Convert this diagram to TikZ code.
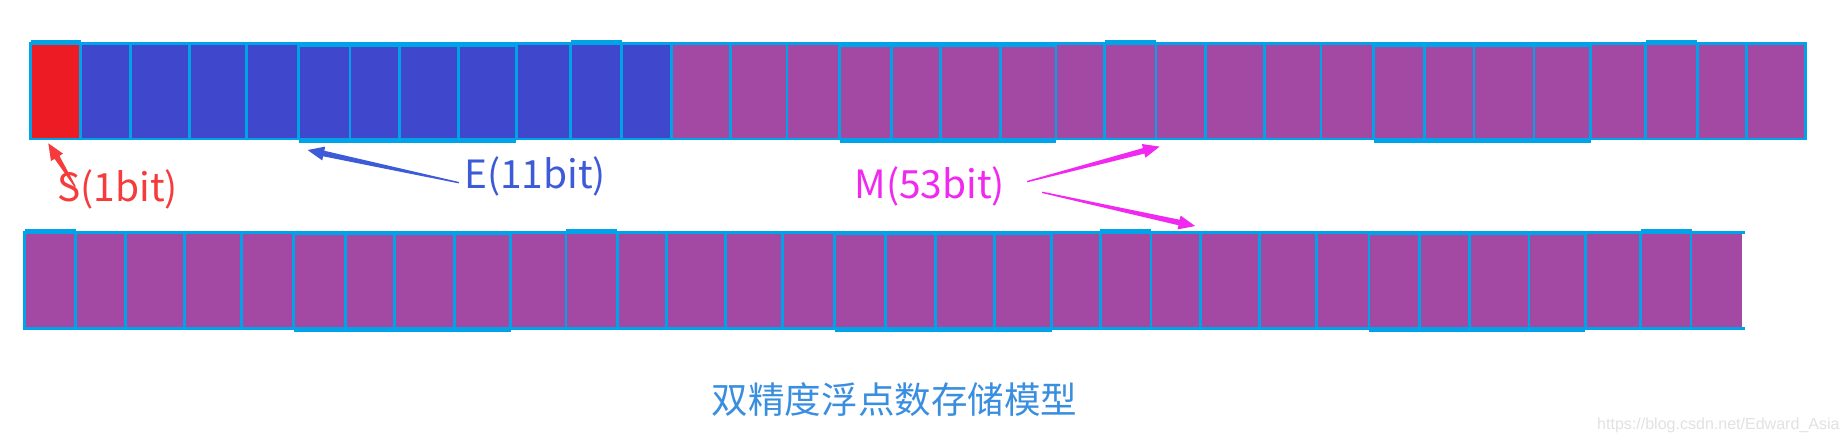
\documentclass[tikz,border=0pt]{standalone}
\usepackage{fontspec}
\setmainfont{Noto Sans CJK SC}
\newfontfamily\wmfont{Liberation Sans}
\usetikzlibrary{calc}
\definecolor{cellline}{HTML}{00A2E8}
\definecolor{sred}{HTML}{ED1C24}
\definecolor{eblue}{HTML}{3F48CC}
\definecolor{mpurple}{HTML}{A349A4}
\definecolor{slabel}{HTML}{F53B3B}
\definecolor{elabel}{HTML}{3D5BD8}
\definecolor{mlabel}{HTML}{F028F0}
\definecolor{titlecol}{HTML}{3A8EE0}
\definecolor{wmcol}{HTML}{E2E2E2}
\tikzset{
  cell/.style={draw=cellline, line width=1.2pt, inner sep=0pt, outer sep=0pt},
  edgeline/.style={draw=cellline, line width=1.2pt},
  lbl/.style={inner sep=0pt, font=\fontsize{16.5pt}{20pt}\selectfont},
}
\newcommand\taperarrow[3]{%
  \coordinate (tb) at ($(#2)!7pt!(#1)$);
  \fill[#3] ($(#1)!0.3pt!90:(#2)$) -- ($(tb)!1.2pt!90:(#2)$) -- ($(tb)!3pt!90:(#2)$)
    -- (#2) -- ($(tb)!3pt!-90:(#2)$) -- ($(tb)!1.2pt!-90:(#2)$) -- ($(#1)!0.3pt!-90:(#2)$) -- cycle;
}
\begin{document}
\begin{tikzpicture}[x=0.5pt, y=-0.5pt]
\useasboundingbox[fill=white] (0,0) rectangle (1568,376.7);
% top row
\foreach \a/\b [count=\k from 0] in {26/68.5, 68.5/110.7, 110.7/161, 161/209, 209/253.4, 253.4/297, 297/339, 339/389.3, 389.3/438, 438/484.2, 484.2/527.6, 527.6/569.5, 569.5/619.8, 619.8/667.8, 667.8/712.5, 712.5/756.1, 756.1/797.7, 797.7/848.7, 848.7/896, 896/937.3, 937.3/980.9, 980.9/1022.8, 1022.8/1072.9, 1072.9/1120.9, 1120.9/1165.5, 1165.5/1209, 1209/1250.7, 1250.7/1301.5, 1301.5/1349.5, 1349.5/1396.2, 1396.2/1440, 1440/1481.7, 1481.7/1531.9} {
  \pgfmathtruncatemacro\m{mod(\k,10)}
  \ifnum\k=0 \def\fc{sred}\else\ifnum\k<12 \def\fc{eblue}\else\def\fc{mpurple}\fi\fi
  \node[cell, fill=\fc, minimum width={(\b-\a)*0.5pt}, minimum height=40.5pt] (t\k) at ({(\a+\b)/2}, 77.5) {};
  \ifnum\m=0 \draw[edgeline] (\a,35.5) -- (\b,35.5); \fi
  \ifnum\m>4 \ifnum\m<9 \draw[edgeline] (\a,38.6) -- (\b,38.6); \draw[edgeline] (\a,119.8) -- (\b,119.8); \fi\fi
}
% bottom row
\foreach \a/\b [count=\k from 0] in {21/64.4, 64.4/106.4, 106.4/156.7, 156.7/205, 205/249.3, 249.3/293, 293/334.6, 334.6/385.6, 385.6/433.2, 433.2/480.2, 480.2/523.8, 523.8/565.5, 565.5/615.8, 615.8/664.1, 664.1/708.4, 708.4/751.4, 751.4/793.7, 793.7/844, 844/892.3, 892.3/933.6, 933.6/976.6, 976.6/1018.8, 1018.8/1069, 1069/1116.7, 1116.7/1161.6, 1161.6/1204.7, 1204.7/1246.5, 1246.5/1297.3, 1297.3/1345, 1345/1392, 1392/1435.4, 1435.4/1478.2} {
  \pgfmathtruncatemacro\m{mod(\k,10)}
  \ifnum\k=31
    \node[cell, draw=none, fill=mpurple, minimum width={(\b-\a)*0.5pt}, minimum height=41pt] (b\k) at ({(\a+\b)/2}, 238) {};
    \draw[edgeline] (\a,197) -- (\b+2,197);
    \draw[edgeline] (\a,279) -- (\b+2,279);
  \else
    \node[cell, fill=mpurple, minimum width={(\b-\a)*0.5pt}, minimum height=41pt] (b\k) at ({(\a+\b)/2}, 238) {};
  \fi
  \ifnum\m=0 \draw[edgeline] (\a,195.5) -- (\b,195.5); \fi
  \ifnum\m>4 \ifnum\m<9 \draw[edgeline] (\a,198.6) -- (\b,198.6); \draw[edgeline] (\a,280.8) -- (\b,280.8); \fi\fi
}
% labels
\node[lbl, text=slabel] (slab) at (100,161) {S(1bit)};
\node[lbl, text=elabel] (elab) at (454,150) {E(11bit)};
\node[lbl, text=mlabel] (mlab) at (789,158) {M(53bit)};
\node[inner sep=0pt, text=titlecol, font=\fontsize{15.5pt}{18pt}\selectfont] (title) at (759,339) {双精度浮点数存储模型};
\node[inner sep=0pt, text=wmcol, font=\wmfont\fontsize{6.8pt}{8pt}\selectfont] (wm) at (1458,361) {https://blog.csdn.net/Edward\_Asia};
% arrows
\coordinate (sTail) at (63.8,158.4);
\coordinate (sTip) at (41,121.6);
\coordinate (eTail) at (389.3,155);
\coordinate (eTip) at (261,127.3);
\coordinate (mTailA) at (871.5,154.1);
\coordinate (mTipA) at (983.9,124.4);
\coordinate (mTailB) at (884.3,163.2);
\coordinate (mTipB) at (1014.1,191.8);
\taperarrow{sTail}{sTip}{slabel}
\taperarrow{eTail}{eTip}{elabel}
\taperarrow{mTailA}{mTipA}{mlabel}
\taperarrow{mTailB}{mTipB}{mlabel}
\end{tikzpicture}
\end{document}
